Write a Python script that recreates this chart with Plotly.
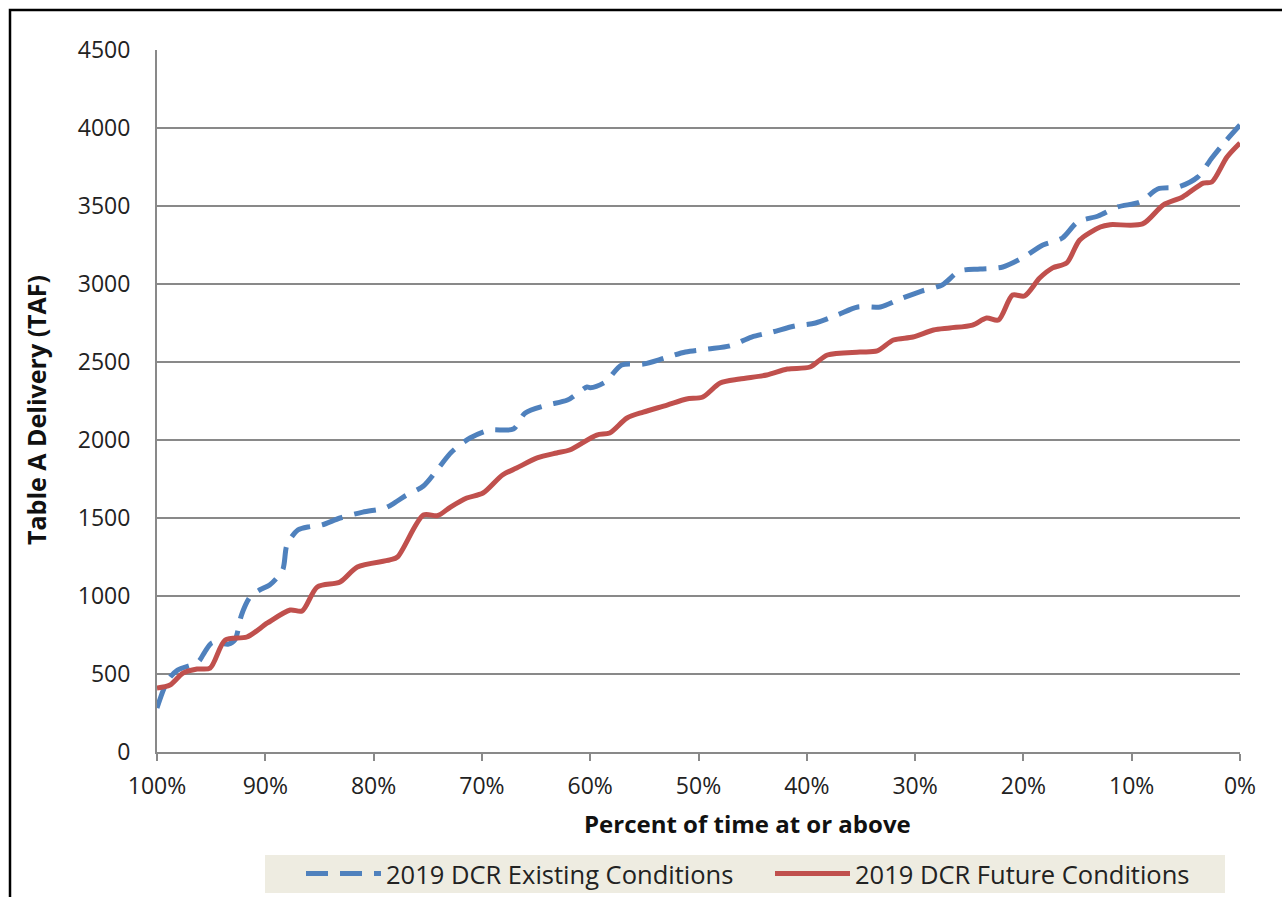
import plotly.graph_objects as go

# Percent of time at or above (x) and Table A Delivery in TAF (y)
existing_pct = [100, 99.0, 98.1, 96.2, 95.6, 94.9, 93.4, 92.8, 92.2, 91.4, 90.5, 89.6, 88.4, 88.0,
                87.0, 85.9, 84.8, 83.1, 81.0, 78.9, 78.0, 77.1, 75.4, 74.0, 72.8, 71.1, 69.3, 67.1,
                66.0, 64.0, 62.1, 60.3, 60.0, 58.6, 57.1, 55.1, 53.1, 51.2, 49.1, 47.1, 45.1, 43.2,
                41.1, 39.2, 37.2, 35.3, 33.2, 31.4, 29.4, 27.5, 25.9, 24.0, 21.9, 20.1, 18.2, 16.4,
                15.0, 13.1, 11.3, 9.2, 7.6, 5.7, 3.9, 2.6, 1.4, 0]
existing_taf = [282, 460, 525, 577, 640, 700, 692, 720, 878, 994, 1040, 1070, 1167, 1327,
                1423, 1445, 1455, 1500, 1538, 1565, 1600, 1641, 1705, 1821, 1923, 2013, 2064, 2070,
                2173, 2224, 2256, 2340, 2335, 2372, 2481, 2487, 2526, 2564, 2583, 2603, 2660, 2692,
                2731, 2750, 2801, 2853, 2853, 2904, 2955, 2994, 3083, 3096, 3109, 3167, 3250, 3295,
                3397, 3436, 3494, 3526, 3609, 3622, 3686, 3808, 3910, 4019]

future_pct = [100, 98.8, 97.6, 96.3, 95.1, 93.7, 91.7, 89.8, 87.7, 86.6, 85.2, 83.1, 81.5, 78.5,
              77.8, 75.4, 74.1, 72.9, 71.4, 69.9, 68.1, 66.8, 64.9, 63.1, 61.9, 59.4, 58.2, 56.6,
              55.1, 52.9, 51.1, 49.6, 48.0, 46.2, 43.7, 41.8, 39.7, 38.1, 35.1, 33.5, 32.0, 30.2,
              28.3, 26.8, 24.7, 23.4, 22.3, 21.0, 19.9, 18.5, 17.3, 16.0, 14.8, 12.9, 12.0, 9.0,
              7.1, 5.3, 3.4, 2.6, 1.2, 0]
future_taf = [410, 429, 506, 532, 538, 718, 737, 827, 910, 904, 1058, 1090, 1186, 1231,
              1250, 1519, 1515, 1570, 1628, 1660, 1776, 1820, 1885, 1917, 1936, 2032, 2045, 2141,
              2179, 2224, 2263, 2276, 2365, 2391, 2417, 2455, 2468, 2545, 2564, 2571, 2641, 2660,
              2705, 2718, 2737, 2782, 2769, 2929, 2923, 3038, 3103, 3135, 3282, 3365, 3380, 3385,
              3506, 3558, 3647, 3654, 3814, 3904]

x_ticks = list(range(0, 101, 10))
x_ticktext = [f"{v}%" for v in x_ticks]
y_ticks = list(range(0, 4501, 500))

FONT = "Open Sans"
GRID = "#898989"
W, H = 1282, 897
ML, MR, MT, MB = 157, 42, 50, 145
PW, PH = W - ML - MR, H - MT - MB


def px(x):
    return (x - ML) / PW


def py(y):
    return (H - MB - y) / PH


fig = go.Figure()
fig.add_trace(go.Scatter(
    x=existing_pct, y=existing_taf, mode="lines",
    name="2019 DCR Existing Conditions", legend="legend",
    line=dict(color="#4F81BD", width=5, dash="22px,12px", shape="spline", smoothing=0.8),
))
fig.add_trace(go.Scatter(
    x=future_pct, y=future_taf, mode="lines",
    name="2019 DCR Future Conditions", legend="legend2",
    line=dict(color="#C0504D", width=5, shape="spline", smoothing=0.8),
))

leg_common = dict(orientation="h", xanchor="left", yanchor="middle", y=py(874),
                  bgcolor="rgba(0,0,0,0)", font=dict(family=FONT, size=25.5, color="#222222"),
                  itemwidth=75)

fig.update_layout(
    width=W, height=H,
    margin=dict(l=ML, r=MR, t=MT, b=MB, autoexpand=False),
    paper_bgcolor="white", plot_bgcolor="white",
    font=dict(family=FONT, size=23, color="#222222"),
    showlegend=True,
    legend=dict(x=px(301), **leg_common),
    legend2=dict(x=px(770), **leg_common),
    xaxis=dict(
        range=[100, 0], tickvals=x_ticks, ticktext=x_ticktext,
        showgrid=False, zeroline=False,
        showline=True, linecolor=GRID, linewidth=2,
        ticks="outside", ticklen=7, tickwidth=2, tickcolor=GRID,
        ticklabelstandoff=5,
    ),
    yaxis=dict(
        range=[0, 4500], tickvals=y_ticks,
        showgrid=True, gridcolor=GRID, gridwidth=2, zeroline=False,
        showline=True, linecolor=GRID, linewidth=2,
        ticks="", ticklabelstandoff=20,
    ),
    shapes=[
        dict(type="rect", xref="paper", yref="paper",
             x0=px(265), x1=px(1225), y0=py(893), y1=py(855),
             fillcolor="#EEECE1", line=dict(width=0), layer="below"),
        dict(type="rect", xref="paper", yref="paper",
             x0=px(10), x1=px(1300), y0=py(920), y1=py(10),
             fillcolor="rgba(0,0,0,0)", line=dict(color="black", width=2.5)),
    ],
    annotations=[
        dict(text="<b>Percent of time at or above</b>", xref="paper", yref="paper",
             x=px(747), y=py(823), xanchor="center", yanchor="middle",
             showarrow=False, font=dict(family=FONT, size=24, color="#111111")),
        dict(text="<b>Table A Delivery (TAF)</b>", xref="paper", yref="paper",
             x=px(36), y=py(410), xanchor="center", yanchor="middle",
             textangle=-90, showarrow=False, font=dict(family=FONT, size=25, color="#111111")),
    ],
)

fig.write_html("out.html", config={"displayModeBar": False},
               post_script="document.body.style.margin='0';")
